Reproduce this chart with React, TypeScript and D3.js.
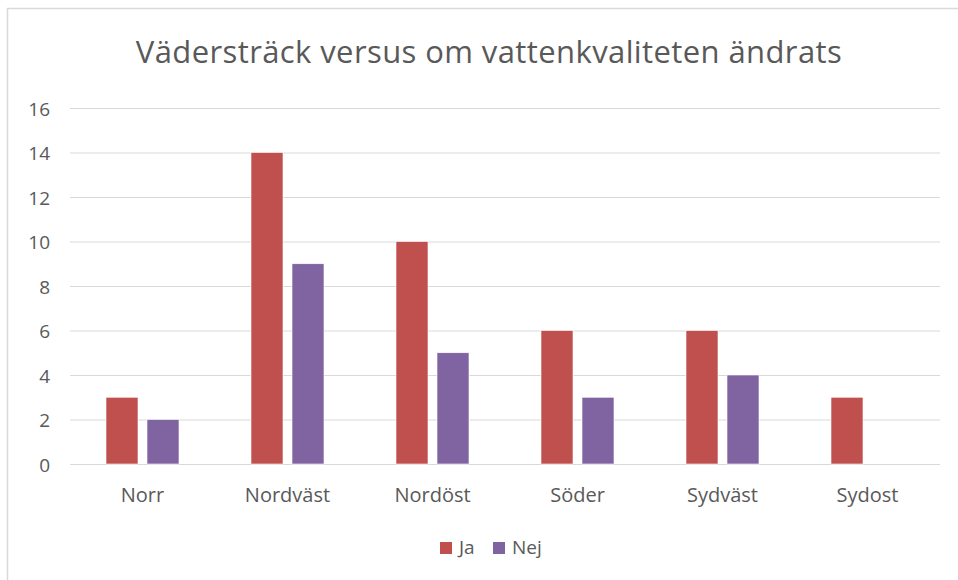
import React, { useEffect, useRef } from 'react';
import * as d3 from 'd3';

const categories = ['Norr', 'Nordväst', 'Nordöst', 'Söder', 'Sydväst', 'Sydost'];
const seriesNames = ['Ja', 'Nej'];
const jaValues = [3, 14, 10, 6, 6, 3];
const nejValues = [2, 9, 5, 3, 4, 0];
const yTicks = [0, 2, 4, 6, 8, 10, 12, 14, 16];
const colors = ['#c0504d', '#8064a2'];

const App = () => {
  const ref = useRef<SVGSVGElement>(null);

  useEffect(() => {
    const svg = d3.select(ref.current);
    svg.selectAll('*').remove();
    const width = 958, height = 580;
    const font = 'Open Sans, sans-serif';
    const textColor = '#595959';

    // chart frame
    svg.append('rect')
      .attr('x', 7.5).attr('y', 8.5)
      .attr('width', width).attr('height', height)
      .attr('fill', '#fff').attr('stroke', '#d9d9d9').attr('stroke-width', 1.5);

    const left = 70, right = 940, top = 108, bottom = 464;
    const groupW = 73;
    const x = d3.scaleBand().domain(categories).range([left, right]);
    const inner = d3.scaleBand().domain(seriesNames).range([0, groupW]).paddingInner(9 / 41);
    const y = d3.scaleLinear().domain([0, 16]).range([bottom, top]);

    svg.append('text')
      .attr('x', 489).attr('y', 63)
      .attr('text-anchor', 'middle')
      .attr('font-family', font).attr('font-size', 31)
      .attr('letter-spacing', 0.4)
      .attr('fill', textColor)
      .text('Väderstäck versus om vattenkvaliteten ändrats'.replace('stäck', 'sträck'));

    svg.append('g').selectAll('line').data(yTicks).enter().append('line')
      .attr('x1', left).attr('x2', right)
      .attr('y1', d => y(d) + 0.5).attr('y2', d => y(d) + 0.5)
      .attr('stroke', '#d9d9d9').attr('stroke-width', 1);

    svg.append('g').selectAll('text').data(yTicks).enter().append('text')
      .attr('x', 50).attr('y', d => y(d) + 7.5)
      .attr('text-anchor', 'end')
      .attr('font-family', font).attr('font-size', 19)
      .attr('fill', textColor)
      .text(d => d);

    const series = [jaValues, nejValues];
    series.forEach((vals, si) => {
      svg.append('g').selectAll('rect').data(vals).enter().append('rect')
        .attr('x', (d, i) => (x(categories[i]) as number) + (x.bandwidth() - groupW) / 2 + (inner(seriesNames[si]) as number))
        .attr('y', d => y(d))
        .attr('width', inner.bandwidth())
        .attr('height', d => bottom - y(d))
        .attr('fill', colors[si])
        .attr('stroke', d => d > 0 ? '#fff' : 'none').attr('stroke-width', 0.6);
    });

    svg.append('g').selectAll('text').data(categories).enter().append('text')
      .attr('x', d => (x(d) as number) + x.bandwidth() / 2)
      .attr('y', 502)
      .attr('text-anchor', 'middle')
      .attr('font-family', font).attr('font-size', 20)
      .attr('fill', textColor)
      .text(d => d);

    const legendX = [440, 493];
    seriesNames.forEach((name, i) => {
      svg.append('rect')
        .attr('x', legendX[i]).attr('y', 542)
        .attr('width', 12).attr('height', 12)
        .attr('fill', colors[i]);
      svg.append('text')
        .attr('x', legendX[i] + 19).attr('y', 554)
        .attr('font-family', font).attr('font-size', 19)
        .attr('fill', textColor)
        .text(name);
    });
  }, []);

  return (
    <svg ref={ref} width={958} height={580}
      style={{ position: 'absolute', left: 0, top: 0, background: '#fff' }} />
  );
};

export default App;
